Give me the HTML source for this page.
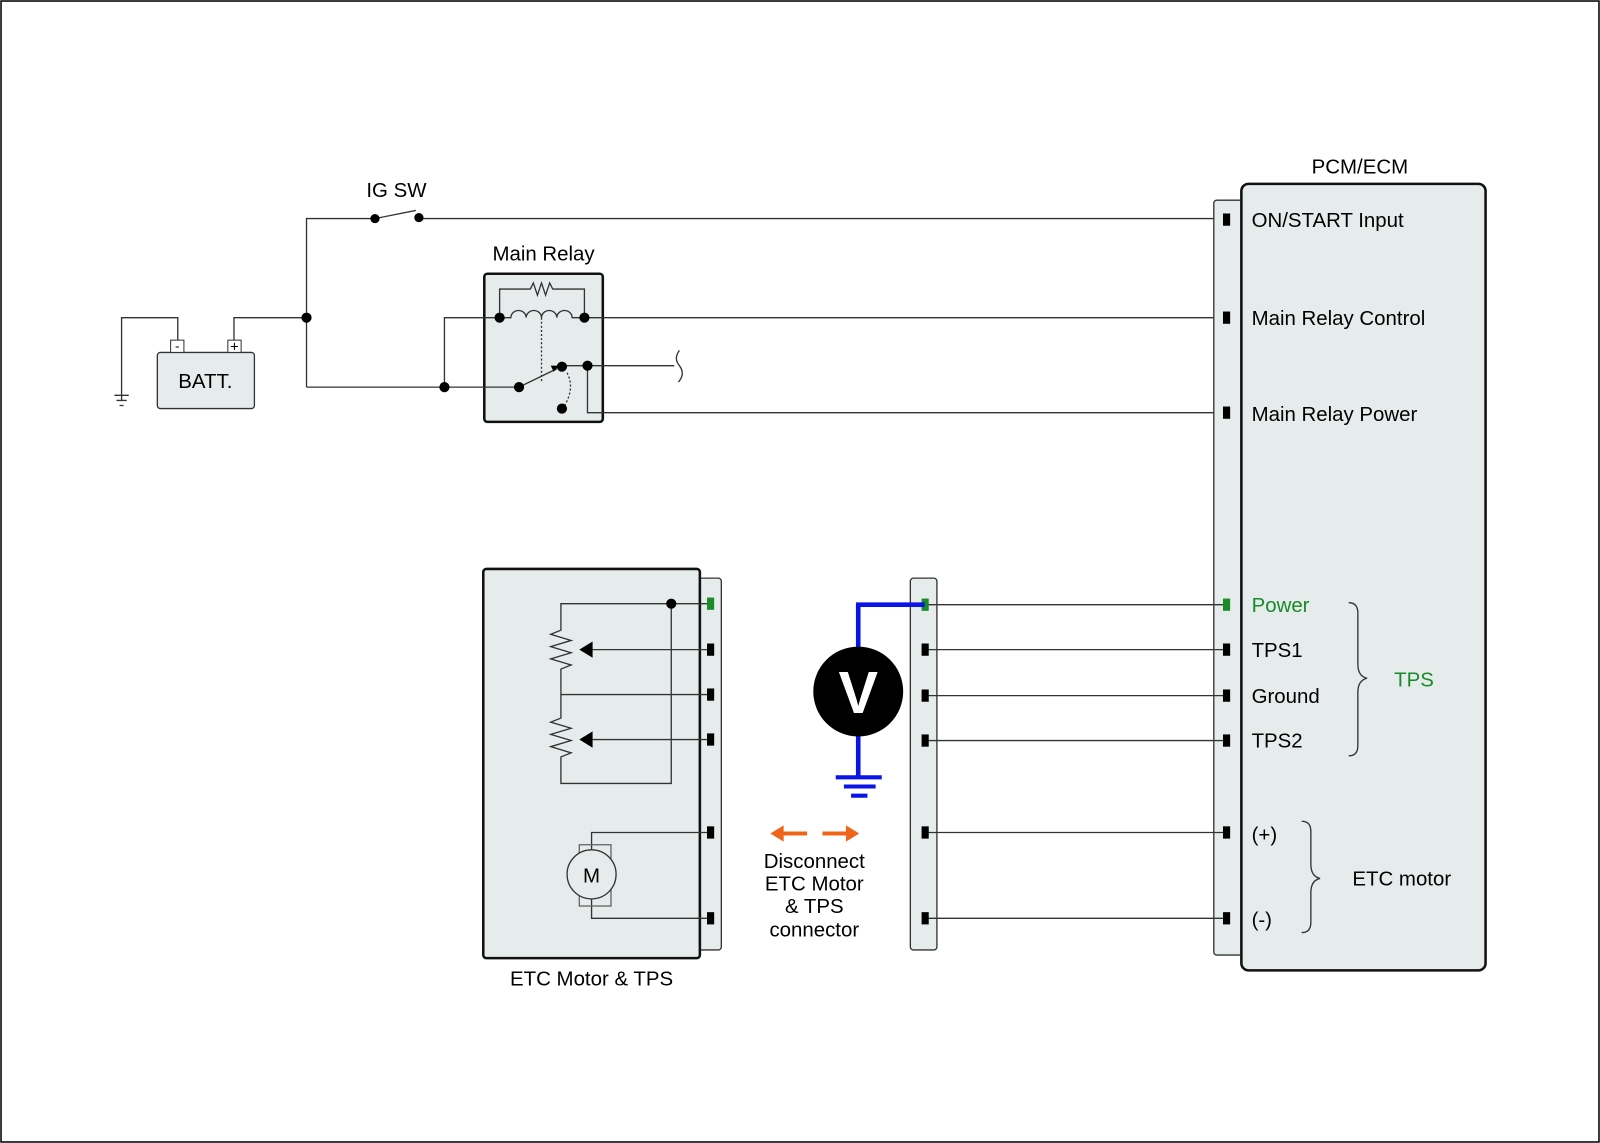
<!DOCTYPE html>
<html><head><meta charset="utf-8"><style>html,body{margin:0;padding:0;background:#fff}svg{display:block}text{font-family:"Liberation Sans",sans-serif;font-size:20px;fill:#000}</style></head><body>
<svg width="1600" height="1143" viewBox="0 0 1566 1119" preserveAspectRatio="none" xmlns="http://www.w3.org/2000/svg">
<rect x="1" y="1" width="1564" height="1117" fill="#fff" stroke="#000" stroke-width="1.5"/>
<!-- main relay box first -->
<rect x="474" y="268" width="116" height="145" rx="3" fill="#e6ecec" stroke="#111" stroke-width="2.5"/>
<text x="532" y="255" text-anchor="middle">Main Relay</text>
<g fill="none" stroke="#333" stroke-width="1.3">
<path d="M300 379V214H367M410 214H1200"/>
<line x1="367" y1="214" x2="407" y2="206"/>
<path d="M174 333V311H119V392M229 333V311H300"/>
<path d="M112 387H126M114 392H124M117 397H121"/>
<path d="M300 379H508M435 379V311H489M572 311H1200"/>
<path d="M550 358H572M575 358H660M575 358V404H1200"/>
<path d="M665 343q-6 8 0 15q6 8 -1 16"/>
<path d="M489 311V283H519l3-6 4 12 4-12 4 12 4-12 3 6H572V311"/>
<path d="M489 311H500a7.5 7 0 0 1 15 0a7.5 7 0 0 1 15 0a7.5 7 0 0 1 15 0a7.5 7 0 0 1 15 0H572"/>
<path d="M530 311V373" stroke-dasharray="2,2"/>
<path d="M508 379L545 361"/>
<path d="M555 365q8 15 -3 33" stroke-dasharray="2,2"/>
</g>
<!-- battery -->
<rect x="154" y="345" width="95" height="55" rx="3" fill="#e6ecec" stroke="#333" stroke-width="1.3"/>
<rect x="167" y="333" width="13" height="12" fill="#fff" stroke="#333"/>
<rect x="223" y="333" width="13" height="12" fill="#fff" stroke="#333"/>
<text x="173.5" y="343" style="font-size:13px" text-anchor="middle">-</text>
<text x="229.5" y="344" style="font-size:14px" text-anchor="middle">+</text>
<text x="201" y="380" text-anchor="middle">BATT.</text>
<text x="388" y="193" text-anchor="middle">IG SW</text>
<path d="M547 358l-8 0l3 6z" fill="#000"/>
<g fill="#000"><circle cx="300" cy="311" r="5"/><circle cx="435" cy="379" r="5"/><circle cx="489" cy="311" r="5"/><circle cx="572" cy="311" r="5"/><circle cx="508" cy="379" r="5"/><circle cx="550" cy="359" r="5"/><circle cx="575" cy="358" r="5"/><circle cx="550" cy="400" r="5"/><circle cx="367" cy="214" r="4.5"/><circle cx="410" cy="213" r="4.5"/></g>
<!-- PCM -->
<text x="1331" y="170" text-anchor="middle">PCM/ECM</text>
<rect x="1188" y="196" width="30" height="739" rx="3" fill="#e6ecec" stroke="#333" stroke-width="1.3"/>
<rect x="1215" y="180" width="239" height="770" rx="7" fill="#e6ecec" stroke="#111" stroke-width="2.5"/>
<rect x="891" y="566" width="26" height="364" rx="3" fill="#e6ecec" stroke="#333" stroke-width="1.3"/>
<g stroke="#333" stroke-width="1.3">
<path d="M905 636H1200M905 681H1200M905 725H1200M905 815H1200M905 899H1200M905 592H1200"/>
</g>
<g fill="#000">
<rect x="1197" y="209" width="7" height="12"/><rect x="1197" y="305" width="7" height="12"/><rect x="1197" y="398" width="7" height="12"/>
<rect x="1197" y="630" width="7" height="12"/><rect x="1197" y="675" width="7" height="12"/><rect x="1197" y="719" width="7" height="12"/><rect x="1197" y="809" width="7" height="12"/><rect x="1197" y="893" width="7" height="12"/>
<rect x="902" y="630" width="7" height="12"/><rect x="902" y="675" width="7" height="12"/><rect x="902" y="719" width="7" height="12"/><rect x="902" y="809" width="7" height="12"/><rect x="902" y="893" width="7" height="12"/>
</g>
<rect x="1197" y="586" width="7" height="12" fill="#1a8a2a"/>
<rect x="902" y="586" width="7" height="12" fill="#1a8a2a"/>
<text x="1225" y="222">ON/START Input</text>
<text x="1225" y="318">Main Relay Control</text>
<text x="1225" y="412">Main Relay Power</text>
<text x="1225" y="599" style="fill:#1a8a2a">Power</text>
<text x="1225" y="643">TPS1</text>
<text x="1225" y="688">Ground</text>
<text x="1225" y="732">TPS2</text>
<text x="1225" y="824">(+)</text>
<text x="1225" y="907">(-)</text>
<text x="1384" y="672" text-anchor="middle" style="fill:#1a8a2a">TPS</text>
<text x="1372" y="867" text-anchor="middle">ETC motor</text>
<g fill="none" stroke="#333" stroke-width="1.3">
<path d="M1320 590q9 0 9 10V650q0 12 9 14q-9 2 -9 14V730q0 10 -9 10"/>
<path d="M1274 804q9 0 9 10V846q0 12 9 14q-9 2 -9 14V903q0 10 -9 10"/>
</g>
<path d="M905 592H840V760" fill="none" stroke="#0a14e6" stroke-width="4.5"/>
<circle cx="840" cy="677" r="44" fill="#000"/>
<text x="840" y="698" text-anchor="middle" style="font-size:58px;font-weight:bold;fill:#fff">V</text>
<g stroke="#0a14e6" stroke-width="4"><path d="M818 761H863M826 770H857M833 779H849"/></g>
<g stroke="#f06418" stroke-width="4"><path d="M764 816H790M805 816H830"/></g>
<path d="M754 816l13-8v16z" fill="#f06418"/><path d="M841 816l-13-8v16z" fill="#f06418"/>
<g text-anchor="middle"><text x="797" y="850">Disconnect</text><text x="797" y="872">ETC Motor</text><text x="797" y="894">&amp; TPS</text><text x="797" y="917">connector</text></g>
<rect x="683" y="566" width="23" height="364" rx="3" fill="#e6ecec" stroke="#333" stroke-width="1.3"/>
<rect x="473" y="557" width="212" height="381" rx="3" fill="#e6ecec" stroke="#111" stroke-width="2.5"/>
<text x="579" y="965" text-anchor="middle">ETC Motor &amp; TPS</text>
<g fill="none" stroke="#333" stroke-width="1.3">
<path d="M695 591H549V617l-10 4 20 6-20 6 20 6-20 6 20 6-10 4V703l-10 4 20 6-20 6 20 6-20 6 20 6-10 4V767H657V591"/>
<path d="M580 636H695M580 724H695M549 680H695"/>
<path d="M695 815H579V832M579 880V899H695"/>
<rect x="567" y="827" width="31" height="60" stroke="#666"/>
</g>
<circle cx="579" cy="856" r="24" fill="#e6ecec" stroke="#333" stroke-width="1.3"/>
<text x="579" y="864" text-anchor="middle">M</text>
<path d="M567 636l13-8v16zM567 724l13-8v16z" fill="#000"/>
<circle cx="657" cy="591" r="5" fill="#000"/>
<g fill="#000"><rect x="692" y="630" width="7" height="12"/><rect x="692" y="674" width="7" height="12"/><rect x="692" y="718" width="7" height="12"/><rect x="692" y="809" width="7" height="12"/><rect x="692" y="893" width="7" height="12"/></g>
<rect x="692" y="585" width="7" height="12" fill="#1a8a2a"/>
</svg>
</body></html>
